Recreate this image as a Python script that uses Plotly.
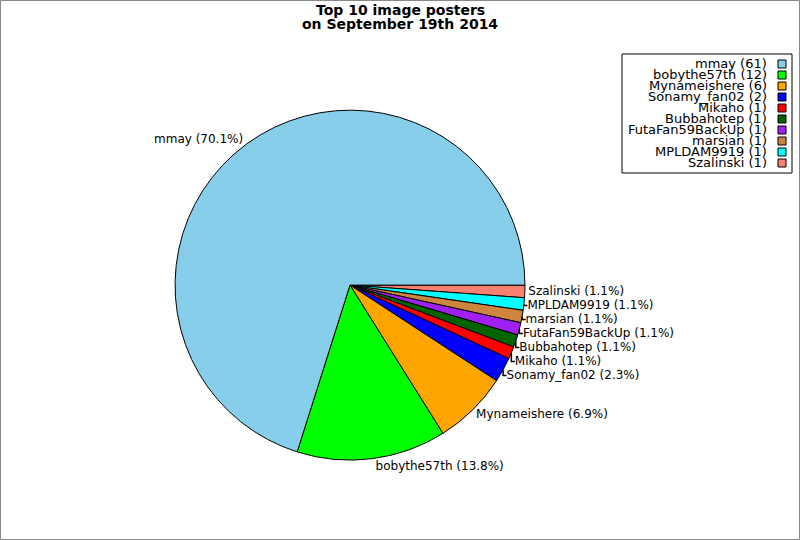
import plotly.graph_objects as go

users = ["mmay", "bobythe57th", "Mynameishere", "Sonamy_fan02", "Mikaho",
         "Bubbahotep", "FutaFan59BackUp", "marsian", "MPLDAM9919", "Szalinski"]
counts = [61, 12, 6, 2, 1, 1, 1, 1, 1, 1]
colors = ["#87ceeb", "#00ff00", "#ffa500", "#0000ff", "#ff0000",
          "#006400", "#a020f0", "#cd853f", "#00ffff", "#fa8072"]
title_lines = ["Top 10 image posters", "on September 19th 2014"]

FONT = "DejaVu Sans"

# slices drawn clockwise from 3 o'clock in reverse order == counterclockwise in original order
fig = go.Figure(go.Pie(
    labels=users[::-1], values=counts[::-1], sort=False,
    direction="clockwise", rotation=90,
    marker=dict(colors=colors[::-1], line=dict(color="black", width=1)),
    texttemplate="%{label} (%{percent:.1%})",
    textposition="outside",
    textfont=dict(family=FONT, size=12, color="black"),
    showlegend=False, automargin=False,
    hoverinfo="label+value+percent",
    domain=dict(x=[0.0, 0.875], y=[0.148, 0.796]),
))

W, H = 800, 540
shapes = [dict(type="rect", xref="paper", yref="paper", x0=0.5 / W, y0=0.5 / H,
               x1=1 - 0.5 / W, y1=1 - 0.5 / H,
               line=dict(color="#888888", width=1), fillcolor="rgba(0,0,0,0)")]
annotations = []
for j, line in enumerate(title_lines):
    annotations.append(dict(text="<b>" + line + "</b>", x=0.5, y=1 - (10 + 14 * j) / H,
                            xref="paper", yref="paper", xanchor="center", yanchor="middle",
                            showarrow=False, font=dict(family=FONT, size=14, color="black")))

# legend box (symbols on the right, like the reference)
shapes.append(dict(type="rect", xref="paper", yref="paper",
                   x0=622 / W, x1=792 / W, y0=1 - 173 / H, y1=1 - 54 / H,
                   line=dict(color="black", width=1), fillcolor="white"))
for i, (u, c, col) in enumerate(zip(users, counts, colors)):
    yc = 64 + 11 * i
    annotations.append(dict(text=f"{u} ({c})", x=769 / W, y=1 - yc / H,
                            xref="paper", yref="paper", xanchor="right", yanchor="middle",
                            showarrow=False, font=dict(family=FONT, size=13, color="black")))
    shapes.append(dict(type="rect", xref="paper", yref="paper",
                       x0=778 / W, x1=786 / W, y0=1 - (yc + 4) / H, y1=1 - (yc - 4) / H,
                       line=dict(color="black", width=1), fillcolor=col))

fig.update_layout(width=W, height=H,
                  margin=dict(l=0, r=0, t=0, b=0, pad=0, autoexpand=False),
                  showlegend=False,
                  paper_bgcolor="white", shapes=shapes, annotations=annotations)
fig.write_html("out.html", config={"displayModeBar": False},
               post_script="document.body.style.margin='0';document.body.style.overflow='hidden';")
